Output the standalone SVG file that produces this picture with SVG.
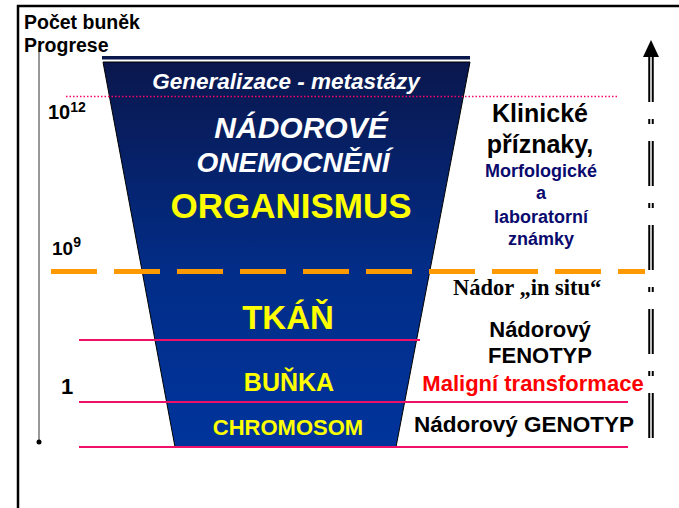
<svg xmlns="http://www.w3.org/2000/svg" width="679" height="508" viewBox="0 0 679 508">
<defs>
<linearGradient id="funnel" x1="0" y1="0" x2="0" y2="1">
<stop offset="0" stop-color="#0a174d"/>
<stop offset="0.55" stop-color="#022d88"/>
<stop offset="1" stop-color="#00349c"/>
</linearGradient>
<style>
text{font-family:"Liberation Sans",Arial,sans-serif;font-weight:bold}
.c{text-anchor:middle}
.w{fill:#ffffff;font-style:italic}
.y{fill:#ffff00}
.k{fill:#000000}
.n{fill:#0a0a6e;font-size:18px}
.pink{stroke:#f0106a;stroke-width:2;fill:none}
</style>
</defs>
<rect width="679" height="508" fill="#ffffff"/>
<path d="M18,508 V6 H679" fill="none" stroke="#000" stroke-width="2.5"/>

<g id="axis">
<line x1="39" y1="47" x2="39" y2="442" stroke="#333" stroke-width="1"/>
<circle cx="39" cy="442" r="2.5" fill="#000"/>
<text x="24" y="29" font-size="19.5" class="k">Počet buněk</text>
<text x="24" y="52" font-size="19.5" class="k">Progrese</text>
<text x="48" y="119" font-size="20" class="k">10<tspan font-size="14" dy="-7">12</tspan></text>
<text x="52" y="255" font-size="19" class="k">10<tspan font-size="14" dy="-8">9</tspan></text>
<text x="61" y="394" font-size="22" class="k">1</text>
</g>

<g id="funnel-shape">
<rect x="102" y="56" width="368" height="3.5" fill="#0a174d"/>
<polygon points="103,62 470,62 396,447 175,447" fill="url(#funnel)" stroke="#000" stroke-width="1"/>
</g>

<g id="lines">
<line x1="66" y1="96.5" x2="617" y2="96.5" stroke="#ff0066" stroke-width="1.5" stroke-dasharray="1.5 2"/>
<line x1="51" y1="271.5" x2="645" y2="271.5" stroke="#ff9900" stroke-width="5" stroke-dasharray="46 17"/>
<line x1="79" y1="340" x2="420" y2="340" class="pink"/>
<line x1="79" y1="402" x2="628" y2="402" class="pink"/>
<line x1="79" y1="447" x2="628" y2="447" class="pink"/>
</g>

<g id="funnel-labels">
<text x="286" y="89" font-size="22.5" class="c w">Generalizace - metastázy</text>
<text x="301" y="138" font-size="30" class="c w">NÁDOROVÉ</text>
<text x="293" y="172" font-size="28" class="c w">ONEMOCNĚNÍ</text>
<text x="291" y="218" font-size="35" class="c y">ORGANISMUS</text>
<text x="288" y="329" font-size="33" class="c y">TKÁŇ</text>
<text x="289" y="391" font-size="25" class="c y">BUŇKA</text>
<text x="288" y="435" font-size="22" class="c y">CHROMOSOM</text>
</g>

<g id="right-labels">
<text x="540" y="122" font-size="25" class="c k">Klinické</text>
<text x="540" y="153" font-size="25" class="c k">příznaky,</text>
<text x="541" y="177" class="c n">Morfologické</text>
<text x="541" y="199" class="c n">a</text>
<text x="541" y="223" class="c n">laboratorní</text>
<text x="541" y="245" class="c n">známky</text>
<text x="453" y="295" font-size="22.5" class="k" style="font-family:'Liberation Serif','Times New Roman',serif">Nádor „in situ“</text>
<text x="540" y="337" font-size="22" class="c k">Nádorový</text>
<text x="540" y="363" font-size="22" class="c k">FENOTYP</text>
<text x="533" y="391" font-size="22" class="c" fill="#ff0000">Maligní transformace</text>
<text x="524" y="432" font-size="22.5" class="c k">Nádorový GENOTYP</text>
</g>

<g id="progress-arrow">
<line x1="651" y1="57" x2="651" y2="442" stroke="#000" stroke-width="5.5" stroke-dasharray="45 17 5 17"/>
<line x1="651" y1="57" x2="651" y2="442" stroke="#fff" stroke-width="1.5" stroke-dasharray="45 17 5 17"/>
<polygon points="651,40 643,57 659,57" fill="#000"/>
</g>
</svg>
